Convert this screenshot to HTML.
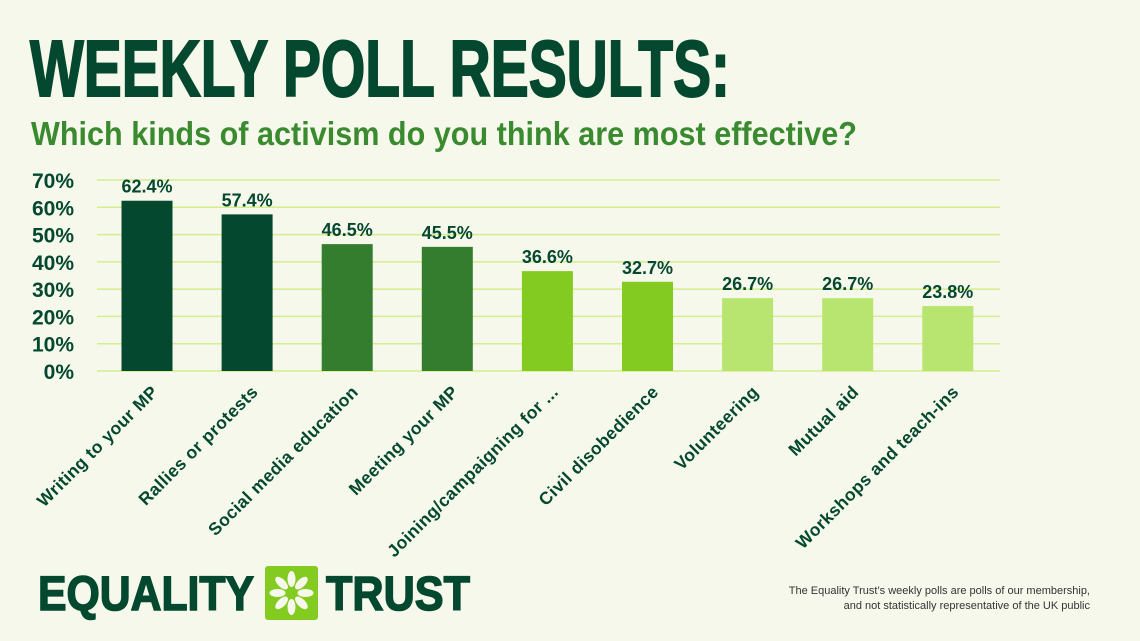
<!DOCTYPE html>
<html><head><meta charset="utf-8"><style>
html,body{margin:0;padding:0;background:#f7f8ec}
svg{display:block}
text{font-family:"Liberation Sans",sans-serif;font-weight:bold}
</style></head><body>
<svg id="c" width="1140" height="641" viewBox="0 0 1140 641">
<rect width="1140" height="641" fill="#f7f8ec"/>
<text x="30" y="96" font-size="80" fill="#03482f" textLength="700" lengthAdjust="spacingAndGlyphs" stroke="#03482f" stroke-width="2">WEEKLY POLL RESULTS:</text>
<text x="31" y="145" font-size="33" fill="#3a8a2f" textLength="826" lengthAdjust="spacingAndGlyphs">Which kinds of activism do you think are most effective?</text>
<g id="grid"></g><g id="bars"></g>
<g>
<text x="38" y="610" font-size="48" fill="#03482f" stroke="#03482f" stroke-width="1.5" textLength="216" lengthAdjust="spacingAndGlyphs">EQUALITY</text>
<rect x="265" y="566" width="53" height="54" rx="3" fill="#83cb21"/>
<g id="petals" fill="#f7f8ec"></g>
<text x="326" y="610" font-size="48" fill="#03482f" stroke="#03482f" stroke-width="1.5" textLength="144" lengthAdjust="spacingAndGlyphs">TRUST</text>
</g>
<text x="1090" y="594" font-size="11" style="font-weight:normal" fill="#333" text-anchor="end">The Equality Trust’s weekly polls are polls of our membership,</text>
<text x="1090" y="609" font-size="11" style="font-weight:normal" fill="#333" text-anchor="end">and not statistically representative of the UK public</text>
</svg>
<script>
const categories=["Writing to your MP","Rallies or protests","Social media education","Meeting your MP","Joining/campaigning for ...","Civil disobedience","Volunteering","Mutual aid","Workshops and teach-ins"];
const values=[62.4,57.4,46.5,45.5,36.6,32.7,26.7,26.7,23.8];
const colors=["#03482f","#03482f","#347d2f","#347d2f","#83cb21","#83cb21","#b7e56f","#b7e56f","#b7e56f"];
const ticks=[0,10,20,30,40,50,60,70];
const NS="http://www.w3.org/2000/svg";
const y0=371,y70=180,x0=97,x1=1000,bw=51;
const y=v=>y0-(v/70)*(y0-y70);
const xc=i=>147+i*100.1;
function mk(t,a,p){const e=document.createElementNS(NS,t);for(const k in a)e.setAttribute(k,a[k]);p.appendChild(e);return e;}
const g=document.getElementById('grid'),b=document.getElementById('bars');
ticks.forEach(t=>{
 const l=mk('line',{x1:x0,x2:x1,y1:y(t),y2:y(t),stroke:'#d3ee8c','stroke-width':1.5},g);
 
 
 const tx=mk('text',{x:74,y:y(t)+8,'font-size':21,fill:'#03482f','text-anchor':'end'},g);
 tx.textContent=t+'%';
 
 
});
values.forEach((v,i)=>{
 const r=mk('rect',{x:xc(i)-bw/2,y:y(v),width:bw,height:y0-y(v),fill:colors[i]},b);
 
 
 const t=mk('text',{x:xc(i),y:y(v)-8,'font-size':18,fill:'#03482f','text-anchor':'middle'},b);
 t.textContent=v.toFixed(1)+'%';
 
 
 const c=mk('text',{x:xc(i)+12,y:393,'font-size':17.5,fill:'#03482f','text-anchor':'end','letter-spacing':'0.4',transform:`rotate(-45 ${xc(i)+12} 393)`},b);
 c.textContent=categories[i];
 
 
});
const p=document.getElementById('petals');
for(let k=0;k<8;k++){const e=mk('ellipse',{cx:291.5,cy:579,rx:4,ry:8,transform:`rotate(${k*45} 291.5 593)`},p);
 
 }
</script>
</body></html>
